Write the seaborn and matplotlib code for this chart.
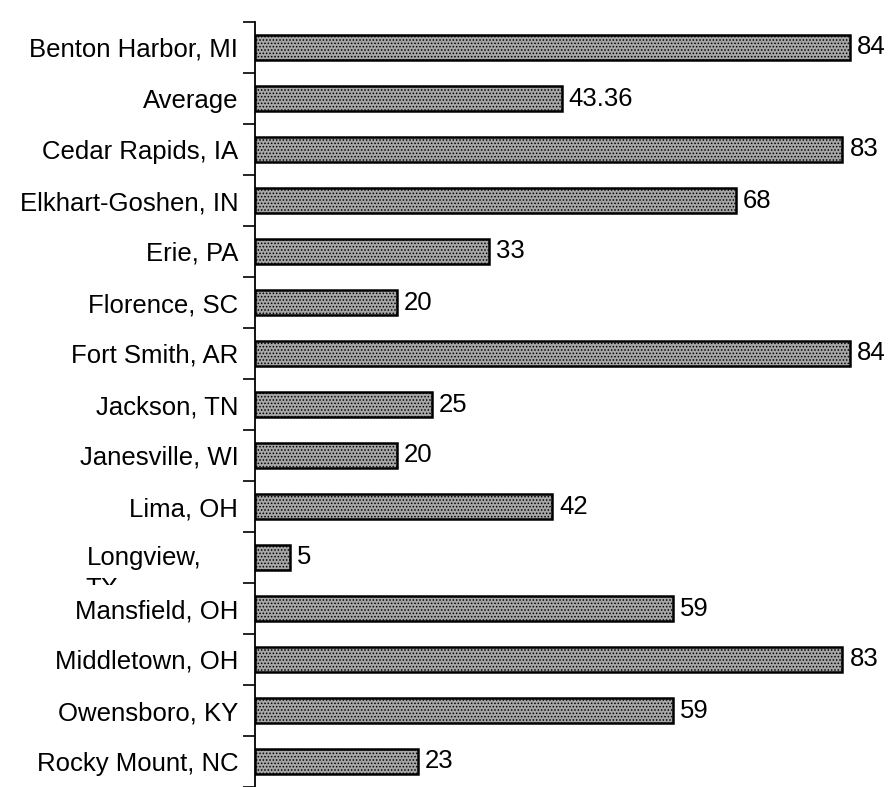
import matplotlib
matplotlib.use('Agg')
import matplotlib.pyplot as plt
import seaborn as sns
import pandas as pd
from matplotlib.transforms import Bbox

cities = ['Benton Harbor, MI', 'Average', 'Cedar Rapids, IA', 'Elkhart-Goshen, IN',
          'Erie, PA', 'Florence, SC', 'Fort Smith, AR', 'Jackson, TN',
          'Janesville, WI', 'Lima, OH', 'Longview, TX', 'Mansfield, OH',
          'Middletown, OH', 'Owensboro, KY', 'Rocky Mount, NC']
values = [84, 43.36, 83, 68, 33, 20, 84, 25, 20, 42, 5, 59, 83, 59, 23]
value_labels = ['84', '43.36', '83', '68', '33', '20', '84', '25', '20', '42',
                '5', '59', '83', '59', '23']

sns.set_style('white')
plt.rcParams['font.family'] = ['Liberation Sans', 'DejaVu Sans']
plt.rcParams['text.color'] = 'black'
plt.rcParams['ytick.color'] = 'black'
plt.rcParams['hatch.linewidth'] = 0.7

FS = 18.5

df = pd.DataFrame({'city': cities, 'value': values})

fig = plt.figure(figsize=(8.92, 7.87), dpi=100)
ax = fig.add_axes([255 / 892, 0.0, 637 / 892, 765 / 787])

sns.barplot(data=df, y='city', x='value', orient='h', color='#a6a6a6',
            width=0.48, edgecolor='black', linewidth=1.8, saturation=1, ax=ax)
for bar in ax.patches:
    bar.set_hatch('.....')

ax.bar_label(ax.containers[0], labels=value_labels, padding=5, fontsize=FS)

ax.set_xlim(0, 90)
ax.set_ylim(14.35, -0.25)
ax.set_xlabel('')
ax.set_ylabel('')
ax.set_xticks([])

for side in ['top', 'right', 'bottom']:
    ax.spines[side].set_visible(False)
ax.spines['left'].set_linewidth(1.3)
ax.spines['left'].set_color('black')

# category labels, ticks between bars
ax.set_yticks(range(len(cities)))
ax.set_yticklabels(['' if c == 'Longview, TX' else c for c in cities], fontsize=FS)
ax.tick_params(axis='y', which='major', left=False, length=0, pad=12)
ax.set_yticks([i - 0.5 for i in range(len(cities) + 1)], minor=True)
ax.tick_params(axis='y', which='minor', left=True, length=9, width=1.2,
               color='black', direction='out')

# wrapped label that gets cut off, as in the original
idx = cities.index('Longview, TX')
ax.annotate('Longview,', xy=(144, idx), xycoords=('figure pixels', 'data'),
            ha='center', va='center', fontsize=FS)
tx = ax.annotate('TX', xy=(144, idx), xycoords=('figure pixels', 'data'),
                 xytext=(-59, -32), textcoords='offset pixels',
                 ha='left', va='center', fontsize=FS)
y_cut = ax.transData.transform((0, idx + 0.5))[1] - 2
tx.set_clip_box(Bbox.from_extents(0, y_cut, 892, 787))
tx.set_clip_on(True)

plt.savefig('out.png', dpi=100)
plt.close(fig)
